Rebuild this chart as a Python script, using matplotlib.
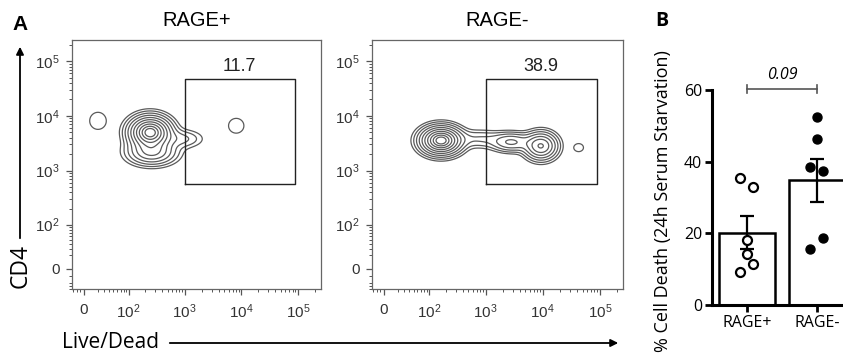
import numpy as np
import matplotlib
matplotlib.use('Agg')
import matplotlib.pyplot as plt
from matplotlib.patches import FancyArrowPatch

# ---------------- data ----------------
flow_titles = ['RAGE+', 'RAGE-']
gate_pct = ['11.7', '38.9']
gate_x = [1000, 88000]
gate_y = [560, 48000]

# density components (log-decade coordinates) for each sample
pos_cx = [2.39, 2.42, 2.95, 1.47, 3.91]
pos_cy = [3.70, 3.33, 3.58, 3.91, 3.82]
pos_sx = [0.20, 0.24, 0.22, 0.14, 0.13]
pos_sy = [0.16, 0.13, 0.10, 0.15, 0.13]
pos_w = [1.00, 0.35, 0.10, 0.045, 0.045]

neg_cx = [2.22, 2.90, 3.45, 3.97, 4.63]
neg_cy = [3.55, 3.58, 3.52, 3.45, 3.42]
neg_sx = [0.195, 0.25, 0.20, 0.16, 0.08]
neg_sy = [0.14, 0.10, 0.10, 0.14, 0.07]
neg_w = [1.00, 0.09, 0.25, 0.50, 0.045]

contour_frac = [0.026, 0.05, 0.089, 0.149, 0.236, 0.349, 0.487, 0.637, 0.783, 0.904]

x_ticks_major = [0, 1e2, 1e3, 1e4, 1e5]
x_tick_labels = ['0', r'$\mathregular{10^2}$', r'$\mathregular{10^3}$', r'$\mathregular{10^4}$', r'$\mathregular{10^5}$']
y_ticks_major = [0, 1e2, 1e3, 1e4, 1e5]
y_tick_labels = ['0', r'$\mathregular{10^2}$', r'$\mathregular{10^3}$', r'$\mathregular{10^4}$', r'$\mathregular{10^5}$']

bar_groups = ['RAGE+', 'RAGE-']
rage_pos_pts = [35.4, 33.0, 18.1, 14.2, 11.4, 9.2]
rage_neg_pts = [52.4, 46.3, 38.5, 37.4, 18.7, 15.6]
pos_jitter = [-0.10, 0.086, 0.0, 0.0, 0.086, -0.10]
neg_jitter = [0.0, 0.0, -0.10, 0.086, 0.086, -0.10]
p_value = '0.09'
bar_yticks = [0, 20, 40, 60]

# ---------------- style ----------------
plt.rcParams['mathtext.fontset'] = 'custom'
plt.rcParams['mathtext.rm'] = 'Liberation Sans'
plt.rcParams['mathtext.it'] = 'Liberation Sans:italic'
plt.rcParams['font.family'] = ['Liberation Sans', 'DejaVu Sans']

W, H = 843, 360
fig = plt.figure(figsize=(W / 100, H / 100), dpi=100)


def fx(px):
    return px / W


def fy(py):
    return 1 - py / H


# biexponential-like scales
CX = 16.7
CY = 15.8
LN10 = np.log(10)


def make_fwd(c):
    def fwd(v):
        v = np.asarray(v, dtype=float)
        return np.arcsinh(v / (2 * c)) / LN10 + np.log10(c)
    return fwd


def make_inv(c):
    def inv(u):
        u = np.asarray(u, dtype=float)
        return 2 * c * np.sinh((u - np.log10(c)) * LN10)
    return inv


fwdx, invx = make_fwd(CX), make_inv(CX)
fwdy, invy = make_fwd(CY), make_inv(CY)

x_minor = [-15, -10, -5] + [m * 10 ** k for k in range(1, 5) for m in range(2, 10)] + [2e5]
y_minor = [-30, -25, -20, -10] + [m * 10 ** k for k in range(1, 5) for m in range(2, 10)] + [2e5]

comps = [
    (pos_cx, pos_cy, pos_sx, pos_sy, pos_w),
    (neg_cx, neg_cy, neg_sx, neg_sy, neg_w),
]

flow_left = [72, 372]
flow_width = [249, 251]
grey = '#5a5a5a'

for i in range(2):
    ax = fig.add_axes([fx(flow_left[i]), fy(289), flow_width[i] / W, 249 / H])
    ax.set_xscale('function', functions=(fwdx, invx))
    ax.set_yscale('function', functions=(fwdy, invy))
    ax.set_xlim(invx(1.012), invx(5.406))
    ax.set_ylim(invy(0.97), invy(5.39))

    # density grid
    u = np.linspace(1.0, 5.4, 500)
    v = np.linspace(0.97, 5.39, 500)
    U, V = np.meshgrid(u, v)
    cx, cy, sx, sy, w = comps[i]
    Z = np.zeros_like(U)
    for a, b, s1, s2, ww in zip(cx, cy, sx, sy, w):
        Z += ww * np.exp(-0.5 * ((U - a) / s1) ** 2 - 0.5 * ((V - b) / s2) ** 2)
    levels = np.array(contour_frac) * Z.max()
    ax.contour(invx(U), invy(V), Z, levels=levels, colors=grey, linewidths=0.9)

    # gate
    gx = [gate_x[0], gate_x[1], gate_x[1], gate_x[0], gate_x[0]]
    gy = [gate_y[0], gate_y[0], gate_y[1], gate_y[1], gate_y[0]]
    ax.plot(gx, gy, color='#222222', lw=1.0)
    ax.annotate(gate_pct[i], (np.sqrt(gate_x[0] * gate_x[1]), gate_y[1]),
                xytext=(0, 3), textcoords='offset points',
                ha='center', va='bottom', fontsize=13, color='#222222')

    for s in ax.spines.values():
        s.set_color('#666666')
        s.set_linewidth(0.9)
    ax.set_xticks(x_ticks_major)
    ax.set_xticklabels(x_tick_labels)
    ax.set_yticks(y_ticks_major)
    ax.set_yticklabels(y_tick_labels)
    ax.set_xticks(x_minor, minor=True)
    ax.set_yticks(y_minor, minor=True)
    ax.tick_params(which='major', length=4, width=0.9, color='#555555', labelsize=11,
                   labelcolor='#333333', pad=5)
    ax.tick_params(axis='x', which='major', pad=6)
    ax.tick_params(which='minor', length=2, width=0.7, color='#555555')
    ax.set_title(flow_titles[i], fontsize=14.5, pad=10)

# panel labels
fig.text(fx(20.5), fy(25), 'A', fontsize=15, fontweight='bold', ha='center', va='center',
         family=['Liberation Sans', 'DejaVu Sans'])
fig.text(fx(662), fy(21), 'B', fontsize=14, fontweight='bold', ha='center', va='center',
         family=['Open Sans', 'DejaVu Sans'])

# axis arrows
fig.text(fx(20.5), fy(266), 'CD4', rotation=90, fontsize=16.5, ha='center', va='center',
         family=['Open Sans', 'DejaVu Sans'])
fig.add_artist(FancyArrowPatch((fx(20), fy(241)), (fx(20), fy(44)), transform=fig.transFigure,
                               arrowstyle='-|>', mutation_scale=11, lw=1.3, color='black'))
fig.text(fx(62), fy(343), 'Live/Dead', fontsize=15, ha='left', va='center',
         family=['Open Sans', 'DejaVu Sans'])
fig.add_artist(FancyArrowPatch((fx(167), fy(343)), (fx(621), fy(343)), transform=fig.transFigure,
                               arrowstyle='-|>', mutation_scale=11, lw=1.3, color='black'))

# ---------------- panel B ----------------
axb = fig.add_axes([fx(712), fy(305), 140 / W, 215 / H])
pts = [rage_pos_pts, rage_neg_pts]
jit = [pos_jitter, neg_jitter]
means = [np.mean(p) for p in pts]
sems = [np.std(p, ddof=1) / np.sqrt(len(p)) for p in pts]
xpos = np.arange(len(bar_groups))
axb.bar(xpos, means, width=0.8, facecolor='white', edgecolor='black', linewidth=1.8, zorder=1)
axb.errorbar(xpos, means, yerr=sems, fmt='none', ecolor='black', elinewidth=1.6,
             capsize=5, capthick=1.6, zorder=3)
axb.scatter(xpos[0] + np.array(jit[0]), pts[0], s=42, facecolor='white', edgecolor='black',
            linewidths=1.6, zorder=4, clip_on=False)
axb.scatter(xpos[1] + np.array(jit[1]), pts[1], s=42, facecolor='black', edgecolor='black',
            linewidths=1.0, zorder=4, clip_on=False)
axb.set_xlim(-0.5, 1.5)
axb.set_ylim(0, 60)
axb.spines['top'].set_visible(False)
axb.spines['right'].set_visible(False)
axb.spines['left'].set_linewidth(2.2)
axb.spines['bottom'].set_linewidth(2.2)
axb.set_yticks(bar_yticks)
axb.set_xticks(xpos)
axb.set_xticklabels(bar_groups)
axb.tick_params(axis='both', length=5, width=2.0, labelsize=11.5, pad=2)
for lab in axb.get_xticklabels() + axb.get_yticklabels():
    lab.set_family(['Open Sans', 'DejaVu Sans'])

# significance bracket
axb.plot([0, 1], [60.3, 60.3], color='#555555', lw=1.2, clip_on=False)
axb.plot([0, 0], [59.1, 61.5], color='#555555', lw=1.2, clip_on=False)
axb.plot([1, 1], [59.1, 61.5], color='#555555', lw=1.2, clip_on=False)
axb.text(0.5, 62.0, p_value, ha='center', va='bottom', fontsize=11.5, style='italic',
         family=['Open Sans', 'DejaVu Sans'])

fig.text(fx(663), fy(201), '% Cell Death (24h Serum Starvation)', rotation=90, fontsize=13,
         ha='center', va='center', family=['Open Sans', 'DejaVu Sans'])

fig.savefig('out.png', dpi=100)
